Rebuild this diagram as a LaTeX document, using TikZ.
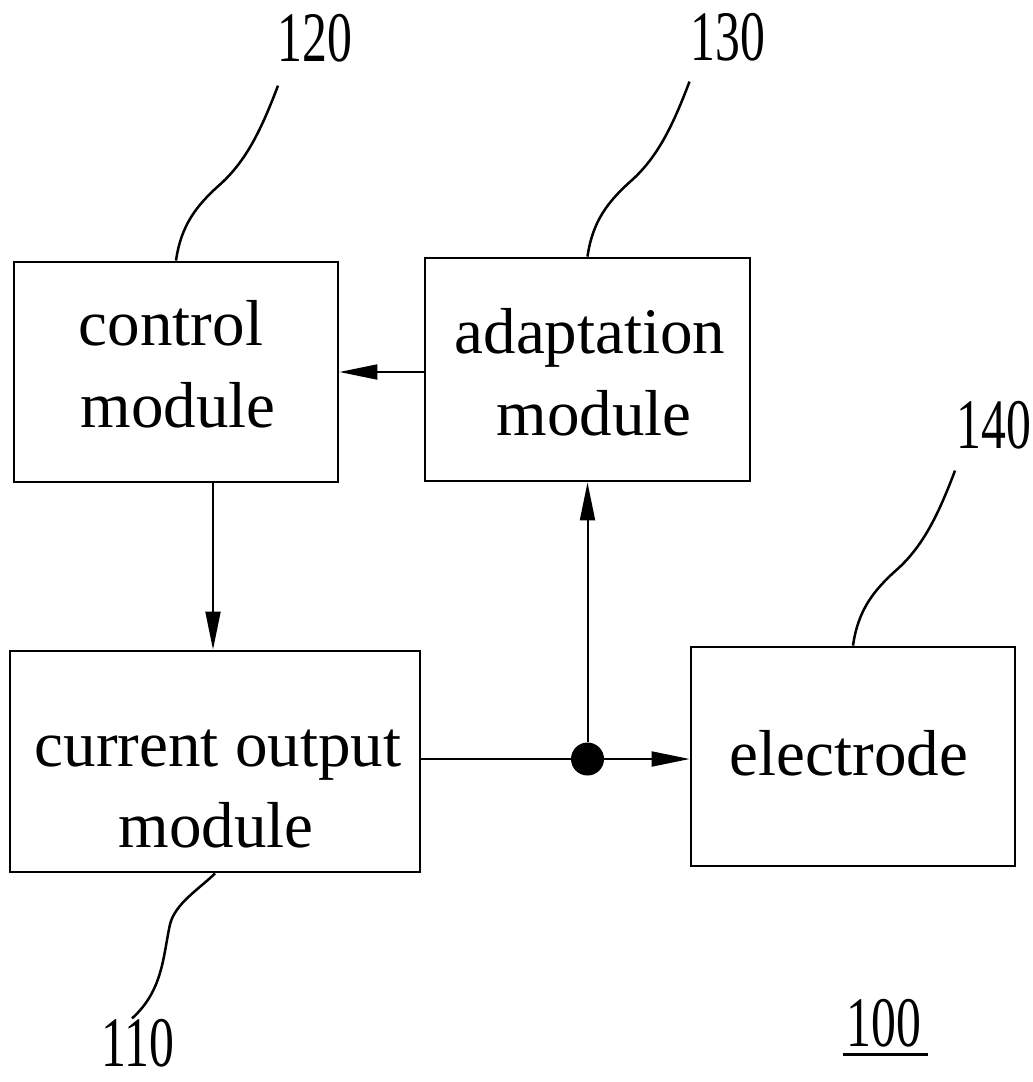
\documentclass[tikz,border=0pt]{standalone}
\usepackage{fontspec}
\setmainfont{Liberation Serif}
\usetikzlibrary{arrows.meta}
\begin{document}
\begin{tikzpicture}[x=1pt,y=-1pt,
  blk/.style={draw, line width=2.8pt, inner sep=0pt, rectangle},
  txt/.style={inner sep=0pt, anchor=base, font=\fontsize{65}{82}\selectfont},
  conn/.style={line width=2pt},
  arr/.style={conn, -{Triangle[length=38pt,width=15pt]}},
  lead/.style={line width=2.5pt},
  num/.style={inner sep=0pt, xscale=0.7, font=\fontsize{71}{80}\selectfont}]
\useasboundingbox (0,0) rectangle (1033,1082);
% boxes
\node[blk, minimum width=324pt, minimum height=220pt] (ctrl) at (176,372) {};
\node[blk, minimum width=325pt, minimum height=223pt] (adapt) at (587.5,369.5) {};
\node[blk, minimum width=410pt, minimum height=221pt] (cur) at (215,761.5) {};
\node[blk, minimum width=324pt, minimum height=219pt] (elec) at (853,756.5) {};
% texts
\node[txt] (t1a) at (171,345) {control};
\node[txt] (t1b) at (178,427) {module};
\node[txt] (t2a) at (590,353) {adaptation};
\node[txt] (t2b) at (594,435) {module};
\node[txt] (t3a) at (218,766) {current output};
\node[txt] (t3b) at (216,847) {module};
\node[txt] (t4a) at (849,775) {electrode};
% junction
\node[circle, fill, inner sep=0pt, minimum size=33pt] (dot) at (587.5,759) {};
% connectors
\draw[arr] (adapt.west |- ctrl.east) -- (ctrl.east);
\draw[arr] ([xshift=37pt]ctrl.south) -- ([xshift=37pt]ctrl.south |- cur.north);
\draw[conn] (cur.east |- dot) -- (dot);
\draw[arr] (dot) -- (elec.west |- dot);
\draw[arr] (dot) -- (adapt.south);
% leaders
\draw[lead] (ctrl.north) .. controls +(5,-35) and +(-25,22) .. ++(45,-77) .. controls +(25,-23) and +(-17,45) .. ++(57,-98) coordinate (e120);
\draw[lead] (adapt.north) .. controls +(5,-35) and +(-25,22) .. ++(45,-77) .. controls +(25,-23) and +(-17,45) .. ++(57,-98) coordinate (e130);
\draw[lead] (elec.north) .. controls +(5,-35) and +(-25,22) .. ++(45,-77) .. controls +(25,-23) and +(-17,45) .. ++(57,-98) coordinate (e140);
\draw[lead] (cur.south) .. controls +(-15,15) and +(5,-21) .. ++(-45,51) .. controls +(-7,32) and +(31,-28) .. ++(-38,94) coordinate (e110);
% reference numerals
\node[num] (n120) at (315,38) {120};
\node[num] (n130) at (728,37) {130};
\node[num] (n140) at (994,425) {140};
\node[num] (n110) at (138,1043) {110};
\node[num] (n100) at (884,1023) {100};
\draw[line width=3pt] (843,1054) -- (928,1054);
\end{tikzpicture}
\end{document}
